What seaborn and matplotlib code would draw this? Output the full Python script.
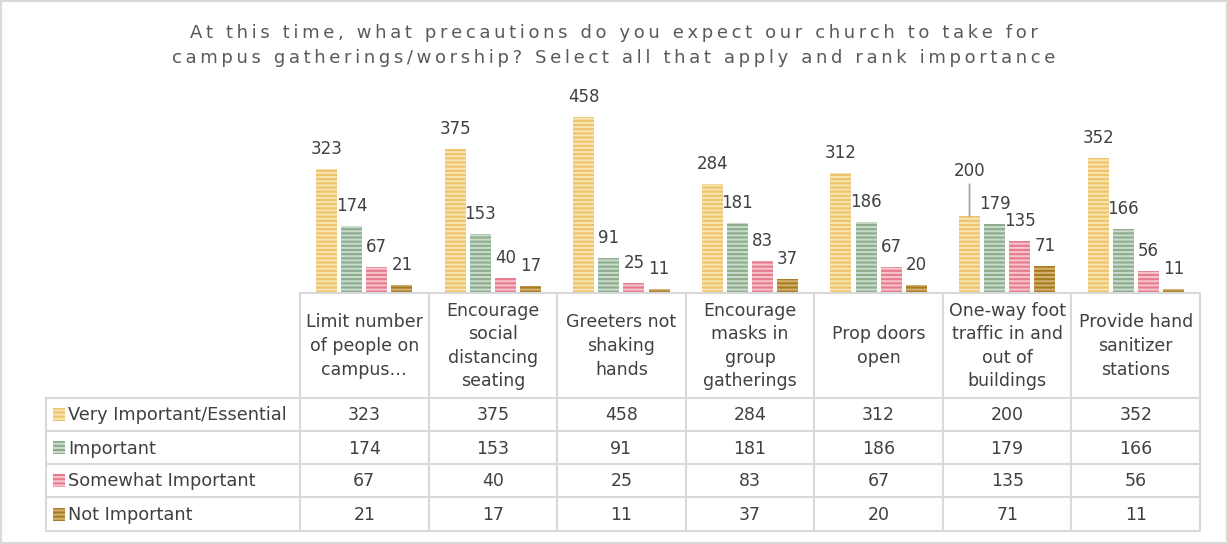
import numpy as np
import pandas as pd
import seaborn as sns
import matplotlib.pyplot as plt
from matplotlib.patches import Rectangle

# Donnees
title_lines = ["At this time, what precautions do you expect our church to take for",
               "campus gatherings/worship? Select all that apply and rank importance"]
categories = ["Limit number\nof people on\ncampus…",
              "Encourage\nsocial\ndistancing\nseating",
              "Greeters not\nshaking\nhands",
              "Encourage\nmasks in\ngroup\ngatherings",
              "Prop doors\nopen",
              "One-way foot\ntraffic in and\nout of\nbuildings",
              "Provide hand\nsanitizer\nstations"]
series_names = ["Very Important/Essential", "Important", "Somewhat Important", "Not Important"]
very_important = [323, 375, 458, 284, 312, 200, 352]
important = [174, 153, 91, 181, 186, 179, 166]
somewhat_important = [67, 40, 25, 83, 67, 135, 56]
not_important = [21, 17, 11, 37, 20, 71, 11]
series_values = [very_important, important, somewhat_important, not_important]

colors = ["#EEC46A", "#8CAD8D", "#E67B8D", "#A67B1F"]
stripe_colors = ["#F8E3B2", "#CADACA", "#F5C3CB", "#D2B170"]
text_color = "#404040"
grid_color = "#D9D9D9"

rows = []
for name, values in zip(series_names, series_values):
    for cat, v in zip(categories, values):
        rows.append({"precaution": cat, "importance": name, "count": v})
df = pd.DataFrame(rows)

W, H = 1228, 544
plt.rcParams["hatch.linewidth"] = 1.5
fig = plt.figure(figsize=(W / 100, H / 100), dpi=100)

# zone des barres (pixels)
x0, x1, base = 300, 1200, 293
ax = fig.add_axes([x0 / W, 1 - base / H, (x1 - x0) / W, 192 / H])
sns.barplot(data=df, x="precaution", y="count", hue="importance", order=categories,
            hue_order=series_names, palette=colors, saturation=1, width=0.78, gap=0.16,
            legend=False, ax=ax)
ax.set_ylim(0, 500)
ax.set_xlim(-0.5, len(categories) - 0.5)
ax.axis("off")

for i, (container, values) in enumerate(zip(ax.containers, series_values)):
    for j, (bar, v) in enumerate(zip(container, values)):
        bar.set_hatch("----")
        bar.set_edgecolor(stripe_colors[i])
        bar.set_linewidth(0)
        if hasattr(bar, "set_hatchcolor"):
            bar.set_hatchcolor(stripe_colors[i])
        cx = bar.get_x() + bar.get_width() / 2
        top = bar.get_height()
        lift = 14.4
        # etiquette deplacee avec trait de rappel (200)
        if i == 0 and j == 5:
            lift = 32.4
            ax.annotate("", xy=(cx, top), xytext=(0, 23), textcoords="offset points",
                        arrowprops=dict(arrowstyle="-", color="#A6A6A6", lw=1.3,
                                        shrinkA=0, shrinkB=0))
        ax.annotate(str(v), (cx, top), xytext=(0, lift), textcoords="offset points",
                    ha="center", va="center", fontsize=12, color=text_color)

# tableau de donnees dessine en pixels
tab = fig.add_axes([0, 0, 1, 1])
tab.set_xlim(0, W)
tab.set_ylim(H, 0)
tab.axis("off")

line_kw = dict(color=grid_color, lw=1.5, clip_on=False)
col_edges = np.linspace(x0, x1, len(categories) + 1)
row_edges = [398, 431, 464, 497, 531]
tab.plot([x0, x1], [base, base], **line_kw)
for x in col_edges:
    tab.plot([x, x], [base, row_edges[-1]], **line_kw)
tab.plot([46, 46], [row_edges[0], row_edges[-1]], **line_kw)
for y in row_edges:
    tab.plot([46, x1], [y, y], **line_kw)

col_centers = (col_edges[:-1] + col_edges[1:]) / 2
for xc, cat in zip(col_centers, categories):
    tab.text(xc, 346, cat, ha="center", va="center", fontsize=12.5, color=text_color,
             linespacing=1.4)

for i, (name, values) in enumerate(zip(series_names, series_values)):
    yc = (row_edges[i] + row_edges[i + 1]) / 2
    tab.add_patch(Rectangle((53, yc - 6.5), 12, 13, facecolor=colors[i], hatch="----",
                            edgecolor=stripe_colors[i], lw=0))
    tab.text(68, yc + 1, name, ha="left", va="center", fontsize=12.8, color=text_color)
    for xc, v in zip(col_centers, values):
        tab.text(xc, yc + 1, str(v), ha="center", va="center", fontsize=12.5, color=text_color)

# titre espace
for k, line in enumerate(title_lines):
    tab.text(614, 33 + 25 * k, "\u2009".join(line), ha="center", va="center",
             fontsize=13, color="#595959")

tab.add_patch(Rectangle((1, 1), W - 2, H - 2, fill=False, edgecolor=grid_color, lw=1.5))

fig.savefig("out.png", dpi=100)
